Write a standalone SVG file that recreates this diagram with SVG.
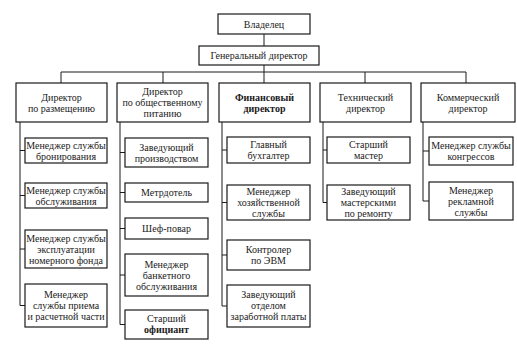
<svg xmlns="http://www.w3.org/2000/svg" width="517" height="352" viewBox="0 0 517 352">
<style>
.box{fill:#fff;stroke:#1a1a1a;stroke-width:1.2}
text{font-family:'Liberation Serif','Times New Roman',Times,serif;font-size:10px;fill:#1a1a1a;text-anchor:middle}
.b{font-weight:bold}
.c{fill:none;stroke:#1a1a1a;stroke-width:1}
</style>
<rect width="517" height="352" fill="#fff"/>
<g id="connectors" class="c">
<path d="M264 34V46M264 65V72M61 72H466M61 72V83M163 72V83M264 72V83M365 72V83M466 72V83"/>
<path d="M20 122V305.5M20 150.5H25M20 195.5H25M20 249H25M20 305.5H25"/>
<path d="M120 122V324.5M120 152.5H125M120 192.5H125M120 228.5H125M120 275H125M120 324.5H125"/>
<path d="M222 122V306M222 150H227M222 202.5H227M222 255H227M222 306H227"/>
<path d="M323 122V202.5M323 150H327M323 202.5H327"/>
<path d="M423 122V201M423 151H429M423 201H429"/>
</g>
<g id="owner"><rect class="box" x="218" y="14" width="92" height="20"/><text x="264" y="27.5">Владелец</text></g>
<g id="gendir"><rect class="box" x="199" y="46" width="120" height="19"/><text x="259" y="59">Генеральный директор</text></g>
<g id="dir1"><rect class="box" x="16" y="83" width="91" height="39"/><text x="61.5" y="100.5">Директор<tspan x="61.5" dy="11">по размещению</tspan></text></g>
<g id="dir2"><rect class="box" x="117" y="83" width="91" height="39"/><text x="162.5" y="95">Директор<tspan x="162.5" dy="11">по общественному</tspan><tspan x="162.5" dy="11">питанию</tspan></text></g>
<g id="dir3"><rect class="box" x="219" y="83" width="91" height="39"/><text class="b" x="264.5" y="100.5">Финансовый<tspan x="264.5" dy="11">директор</tspan></text></g>
<g id="dir4"><rect class="box" x="320" y="83" width="91" height="39"/><text x="365.5" y="100.5">Технический<tspan x="365.5" dy="11">директор</tspan></text></g>
<g id="dir5"><rect class="box" x="421" y="83" width="94" height="39"/><text x="468" y="100.5">Коммерческий<tspan x="468" dy="11">директор</tspan></text></g>

<g id="c1n1"><rect class="box" x="25" y="138" width="82" height="25"/><text x="66" y="148.5">Менеджер службы<tspan x="66" dy="11">бронирования</tspan></text></g>
<g id="c1n2"><rect class="box" x="25" y="183" width="82" height="25"/><text x="66" y="193.5">Менеджер службы<tspan x="66" dy="11">обслуживания</tspan></text></g>
<g id="c1n3"><rect class="box" x="25" y="230" width="82" height="38"/><text x="66" y="241.5">Менеджер службы<tspan x="66" dy="11">эксплуатации</tspan><tspan x="66" dy="11">номерного фонда</tspan></text></g>
<g id="c1n4"><rect class="box" x="25" y="284" width="82" height="43"/><text x="66" y="298">Менеджер<tspan x="66" dy="11">службы приема</tspan><tspan x="66" dy="11">и расчетной части</tspan></text></g>

<g id="c2n1"><rect class="box" x="125" y="138" width="83" height="29"/><text x="166.5" y="150.5">Заведующий<tspan x="166.5" dy="11">производством</tspan></text></g>
<g id="c2n2"><rect class="box" x="125" y="183" width="83" height="19"/><text x="166.5" y="196">Метрдотель</text></g>
<g id="c2n3"><rect class="box" x="125" y="218" width="83" height="21"/><text x="166.5" y="232">Шеф-повар</text></g>
<g id="c2n4"><rect class="box" x="125" y="254" width="83" height="42"/><text x="166.5" y="267.5">Менеджер<tspan x="166.5" dy="11">банкетного</tspan><tspan x="166.5" dy="11">обслуживания</tspan></text></g>
<g id="c2n5"><rect class="box" x="125" y="310" width="83" height="29"/><text x="166.5" y="322"><tspan>Старший</tspan><tspan class="b" x="166.5" dy="11">официант</tspan></text></g>

<g id="c3n1"><rect class="box" x="227" y="137" width="83" height="26"/><text x="268.5" y="147.5">Главный<tspan x="268.5" dy="11">бухгалтер</tspan></text></g>
<g id="c3n2"><rect class="box" x="227" y="185" width="83" height="35"/><text x="268.5" y="195">Менеджер<tspan x="268.5" dy="11">хозяйственной</tspan><tspan x="268.5" dy="11">службы</tspan></text></g>
<g id="c3n3"><rect class="box" x="227" y="240" width="83" height="30"/><text x="268.5" y="252.5">Контролер<tspan x="268.5" dy="11">по ЭВМ</tspan></text></g>
<g id="c3n4"><rect class="box" x="227" y="285" width="83" height="42"/><text x="268.5" y="298">Заведующий<tspan x="268.5" dy="11">отделом</tspan><tspan x="268.5" dy="11">заработной платы</tspan></text></g>

<g id="c4n1"><rect class="box" x="327" y="137" width="83" height="26"/><text x="368.5" y="147.5">Старший<tspan x="368.5" dy="11">мастер</tspan></text></g>
<g id="c4n2"><rect class="box" x="327" y="185" width="83" height="35"/><text x="368.5" y="195">Заведующий<tspan x="368.5" dy="11">мастерскими</tspan><tspan x="368.5" dy="11">по ремонту</tspan></text></g>

<g id="c5n1"><rect class="box" x="429" y="137" width="84" height="28"/><text x="471" y="148.5">Менеджер службы<tspan x="471" dy="11">конгрессов</tspan></text></g>
<g id="c5n2"><rect class="box" x="429" y="182" width="84" height="38"/><text x="471" y="193.5">Менеджер<tspan x="471" dy="11">рекламной</tspan><tspan x="471" dy="11">службы</tspan></text></g>
</svg>
